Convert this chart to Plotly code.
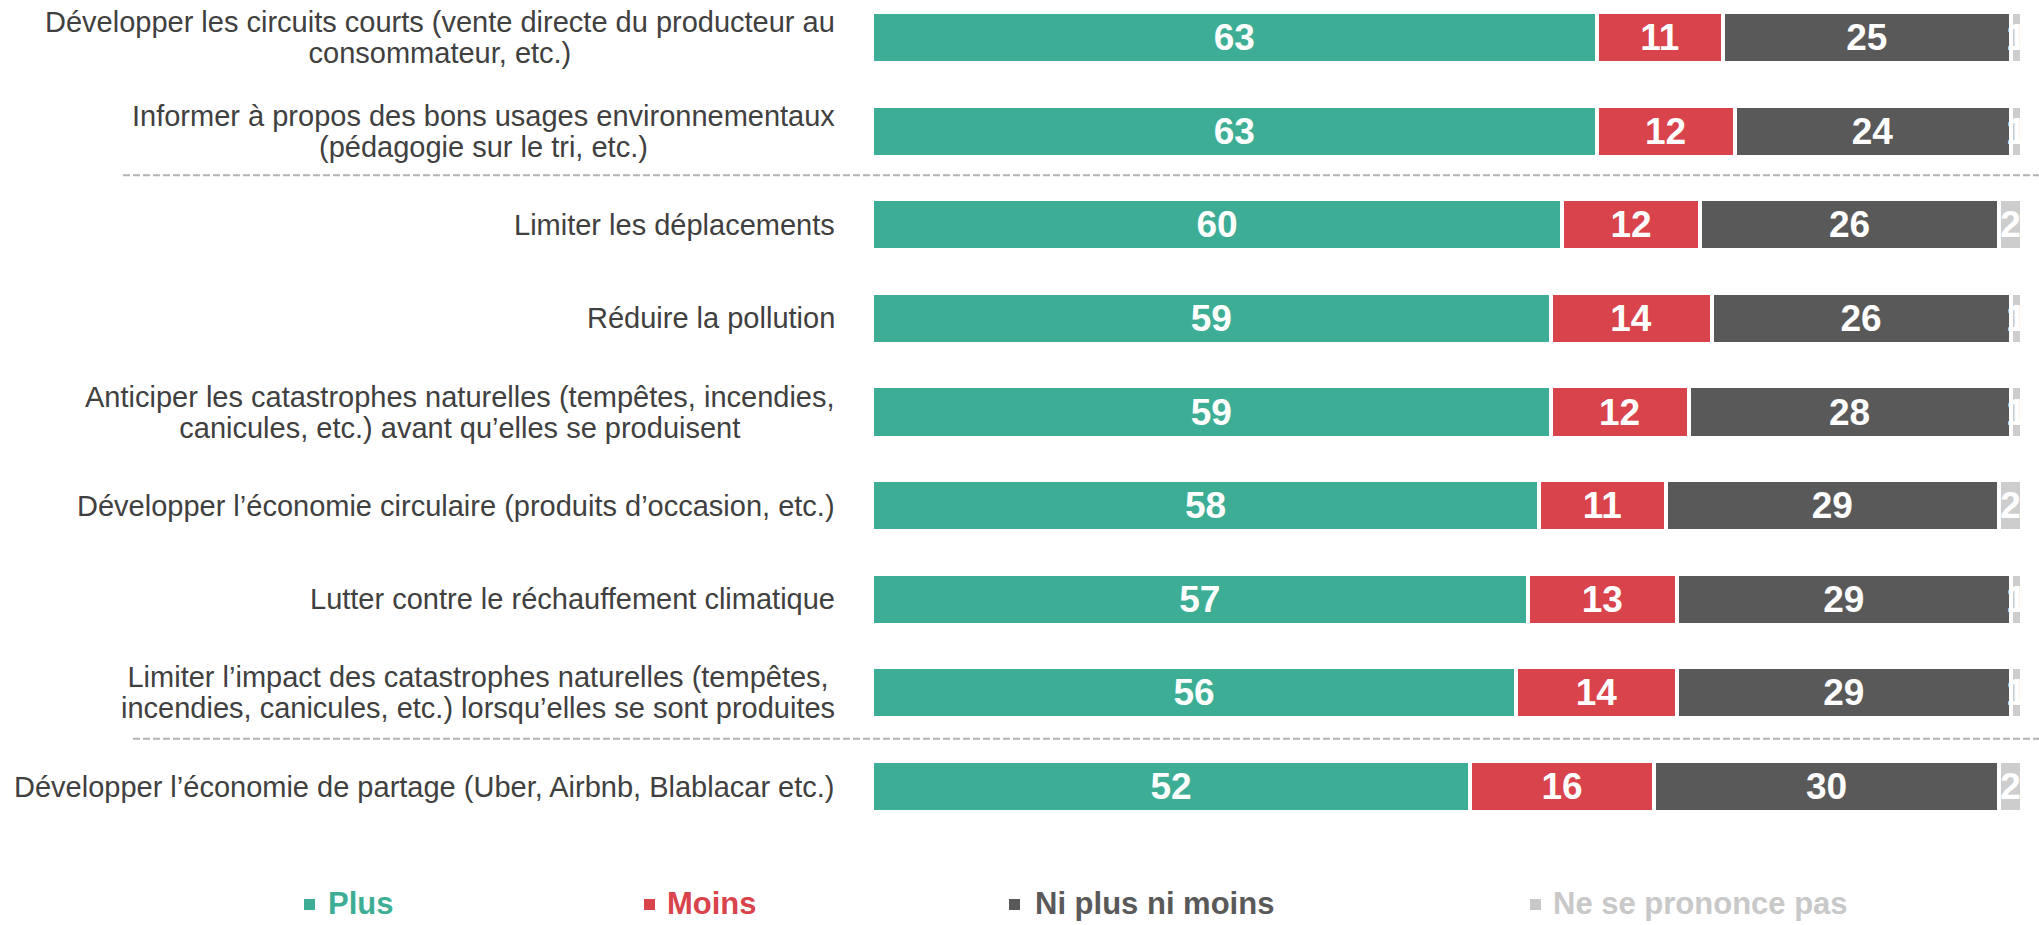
import plotly.graph_objects as go

categories = [
    "Développer les circuits courts (vente directe du producteur au\nconsommateur, etc.)",
    "Informer à propos des bons usages environnementaux\n(pédagogie sur le tri, etc.)",
    "Limiter les déplacements",
    "Réduire la pollution",
    "Anticiper les catastrophes naturelles (tempêtes, incendies,\ncanicules, etc.) avant qu’elles se produisent",
    "Développer l’économie circulaire (produits d’occasion, etc.)",
    "Lutter contre le réchauffement climatique",
    "Limiter l’impact des catastrophes naturelles (tempêtes,\nincendies, canicules, etc.) lorsqu’elles se sont produites",
    "Développer l’économie de partage (Uber, Airbnb, Blablacar etc.)",
]
plus = [63, 63, 60, 59, 59, 58, 57, 56, 52]
moins = [11, 12, 12, 14, 12, 11, 13, 14, 16]
ni = [25, 24, 26, 26, 28, 29, 29, 29, 30]
nsp = [1, 1, 2, 1, 1, 2, 1, 1, 2]

series_names = ["Plus", "Moins", "Ni plus ni moins", "Ne se prononce pas"]
series_values = [plus, moins, ni, nsp]
colors = ["#3DAE95", "#D9434B", "#595959", "#CDCDCD"]
legend_colors = ["#3DAE95", "#D9434B", "#595959", "#C8C8C8"]

FONT = "Liberation Sans, Arial, sans-serif"
W, H = 2039, 925
PL, PR = 872, 2022      # plot area pixel x extent
PT, PB = 0, 830         # plot area pixel y extent

def px_x(p):
    return (p - PL) / (PR - PL)

def px_y(p):
    return 1 - (p - PT) / (PB - PT)

fig = go.Figure()
for name, vals, col in zip(series_names, series_values, colors):
    fig.add_trace(go.Bar(
        y=categories, x=vals, name=name, orientation="h",
        marker=dict(color=col, line=dict(color="white", width=4)),
        width=0.545,
        text=vals, texttemplate="<b>%{text}</b>",
        textposition="inside", insidetextanchor="middle",
        constraintext="none", textangle=0,
        textfont=dict(family=FONT, size=37, color="white"),
        showlegend=False, hoverinfo="x+name",
    ))

annotations = []
# category labels (right-aligned block, centered lines)
for cat in categories:
    lines = cat.split("\n")
    txt = "<br>".join('<span style="font-size:29px">%s</span>' % l for l in lines)
    annotations.append(dict(
        x=px_x(837), xref="paper", y=cat, yref="y",
        text=txt, showarrow=False, xanchor="right", yanchor="middle",
        align="center", font=dict(family=FONT, size=24, color="#404040"),
    ))

# custom legend
legend_text_x = [326, 665, 1033, 1551]
legend_sq_x = [304, 644, 1009, 1530]
shapes = []
for name, col, tx, sx in zip(series_names, legend_colors, legend_text_x, legend_sq_x):
    annotations.append(dict(
        x=px_x(tx), xref="paper", y=px_y(903), yref="paper",
        text="<b>%s</b>" % name, showarrow=False, xanchor="left", yanchor="middle",
        font=dict(family=FONT, size=31, color=col),
    ))
    shapes.append(dict(
        type="rect", xref="paper", yref="paper",
        x0=px_x(sx), x1=px_x(sx + 11), y0=px_y(899), y1=px_y(910),
        fillcolor=col, line=dict(width=0),
    ))

# dashed separators
for yv, x0 in [(1.47, 123), (7.49, 133)]:
    shapes.append(dict(
        type="line", xref="paper", yref="y",
        x0=px_x(x0), x1=px_x(2039), y0=yv, y1=yv,
        line=dict(color="#B3B3B3", width=2, dash="7px,3px"),
    ))

fig.update_layout(
    barmode="stack",
    width=W, height=H,
    margin=dict(l=PL, r=W - PR, t=PT, b=H - PB, pad=0),
    paper_bgcolor="white", plot_bgcolor="white",
    xaxis=dict(range=[0, 100], visible=False, fixedrange=True),
    yaxis=dict(range=[8.4645, -0.4005], showticklabels=False, showgrid=False,
               zeroline=False, showline=False, ticks="", fixedrange=True),
    annotations=annotations,
    shapes=shapes,
    font=dict(family=FONT),
    showlegend=False,
)

fig.write_html(
    "out.html",
    config={"displayModeBar": False},
    post_script="document.body.style.margin='0';document.body.style.overflow='hidden';",
)
